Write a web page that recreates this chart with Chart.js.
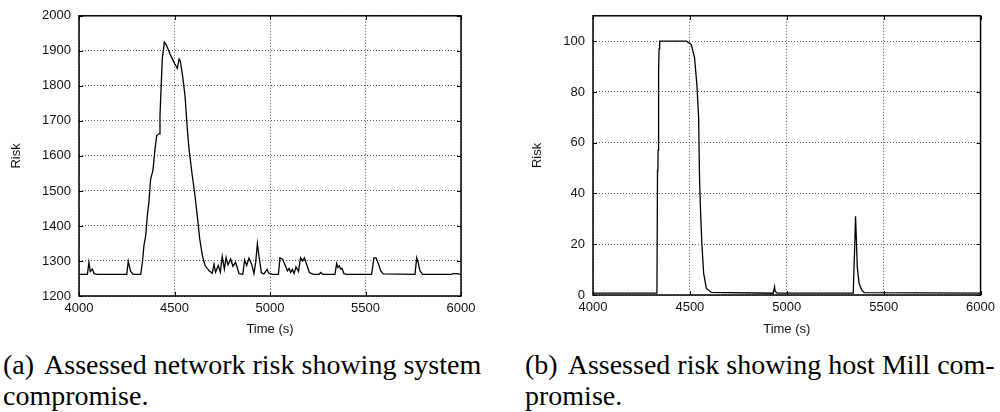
<!DOCTYPE html>
<html>
<head>
<meta charset="utf-8">
<script src="https://cdn.jsdelivr.net/npm/chart.js@4.4.1/dist/chart.umd.min.js"></script>
<style>
	body { margin: 0; background: #fff; }
	#page { position: relative; width: 1000px; height: 412px; overflow: hidden; }
	canvas { position: absolute; top: 0; }
	.cap { position: absolute; font-family: "Liberation Serif", "DejaVu Serif", "Times New Roman", Times, serif; font-size: 28px; line-height: 31px; color: #000; white-space: nowrap; }
	.cap .lbl { margin-right: 10px; }
</style>
</head>
<body>
<div id="page">
	<canvas id="netChart" width="500" height="340" style="left:0"></canvas>
	<canvas id="hostChart" width="500" height="340" style="left:500px"></canvas>
	<div class="cap" style="left:3px; top:349px"><span class="lbl">(a)</span>Assessed network risk showing system<br>compromise.</div>
	<div class="cap" style="left:525px; top:349px"><span class="lbl">(b)</span>Assessed risk showing host Mill com-<br>promise.</div>
</div>
<script>
// (a) network risk
var netTime = [4000, 4044, 4052, 4059, 4070, 4079, 4096, 4250, 4258, 4270, 4283, 4323, 4332, 4340, 4349, 4358, 4366, 4375, 4387, 4398,
	4407, 4419, 4424, 4431, 4436, 4447, 4457, 4480, 4501, 4515, 4524, 4530, 4541, 4555, 4567, 4576, 4593, 4607, 4619, 4632,
	4646, 4660, 4681, 4698, 4707, 4715, 4729, 4740, 4750, 4761, 4770, 4780, 4794, 4806, 4820, 4838, 4858, 4867, 4878, 4890,
	4904, 4916, 4925, 4934, 4942, 4955, 4968, 4985, 4992, 5000, 5014, 5044, 5052, 5066, 5078, 5091, 5100, 5108, 5117, 5126,
	5136, 5149, 5160, 5171, 5180, 5192, 5206, 5227, 5258, 5265, 5276, 5340, 5349, 5356, 5363, 5370, 5377, 5387, 5401, 5532,
	5544, 5555, 5567, 5579, 5593, 5759, 5768, 5777, 5785, 5799, 5951, 5960, 5977, 6000]
var netRisk = [1262, 1262, 1296, 1270, 1277, 1264, 1262, 1262, 1299, 1271, 1262, 1262, 1296, 1344, 1372, 1430, 1468, 1534, 1558, 1620,
	1658, 1663, 1715, 1810, 1877, 1925, 1917, 1887, 1863, 1850, 1877, 1872, 1834, 1772, 1677, 1620, 1544, 1487, 1430, 1363,
	1315, 1287, 1272, 1265, 1291, 1268, 1287, 1268, 1313, 1277, 1310, 1289, 1306, 1285, 1296, 1264, 1262, 1303, 1287, 1308,
	1291, 1264, 1296, 1350, 1315, 1266, 1263, 1276, 1266, 1264, 1262, 1262, 1309, 1305, 1290, 1272, 1279, 1267, 1276, 1264,
	1283, 1270, 1309, 1300, 1309, 1290, 1267, 1262, 1262, 1267, 1262, 1262, 1293, 1281, 1286, 1277, 1279, 1264, 1262, 1262,
	1309, 1309, 1293, 1272, 1263, 1262, 1309, 1293, 1272, 1262, 1262, 1264, 1264, 1262]

// (b) host Mill risk
var hostTime = [4000, 4330, 4333, 4335, 4336, 4338, 4339, 4341, 4344, 4482, 4507, 4524, 4536, 4545, 4550, 4555, 4562, 4571, 4585, 4610,
	4930, 4937, 4940, 4950, 5343, 5350, 5355, 5364, 5373, 5387, 5400, 6000]
var hostRisk = [0.7, 0.7, 49, 50, 57, 77, 88, 97, 100, 100, 98.7, 93.5, 83, 70, 45, 33, 20, 8.5, 2.6, 1,
	0.7, 3.3, 1.5, 0.7, 0.7, 17.6, 31, 11, 4.6, 1.9, 0.9, 0.7]

var timeTicks = [4000, 4500, 5000, 5500, 6000]

function toPoints(xs, ys) {
	return xs.map(function (x, i) { return { x: x, y: ys[i] } })
}

var frame = {
	id: 'frame',
	afterDraw: function (chart) {
		var a = chart.chartArea, ctx = chart.ctx
		ctx.save()
		ctx.strokeStyle = '#000'
		ctx.lineWidth = 1
		chart.scales.x.ticks.forEach(function (t) {
			var px = Math.round(chart.scales.x.getPixelForValue(t.value)) + 0.5
			ctx.beginPath()
			ctx.moveTo(px, a.bottom); ctx.lineTo(px, a.bottom - 4)
			ctx.moveTo(px, a.top); ctx.lineTo(px, a.top + 4)
			ctx.stroke()
		})
		chart.scales.y.ticks.forEach(function (t) {
			var py = Math.round(chart.scales.y.getPixelForValue(t.value)) + 0.5
			ctx.beginPath()
			ctx.moveTo(a.left, py); ctx.lineTo(a.left + 4, py)
			ctx.moveTo(a.right, py); ctx.lineTo(a.right - 4, py)
			ctx.stroke()
		})
		ctx.lineWidth = 1.5
		ctx.strokeRect(a.left, a.top, a.right - a.left, a.bottom - a.top)
		ctx.restore()
	}
}

function initRiskChart(id, xs, ys, opts) {
	var tickFont = { family: "'Liberation Sans', Arial, sans-serif", size: 13 }
	return new Chart(document.getElementById(id), {
		type: 'line',
		data: {
			datasets: [{
				data: toPoints(xs, ys),
				borderColor: '#000',
				borderWidth: 1.3,
				pointRadius: 0,
				tension: 0,
				fill: false
			}]
		},
		options: {
			responsive: false,
			animation: false,
			devicePixelRatio: 1,
			layout: { padding: { top: 15, right: opts.padRight, left: 0, bottom: 0 } },
			plugins: { legend: { display: false }, tooltip: { enabled: false } },
			scales: {
				x: {
					type: 'linear',
					min: 4000,
					max: 6000,
					afterFit: function (s) { s.height = opts.xHeight },
					afterBuildTicks: function (s) { s.ticks = timeTicks.map(function (v) { return { value: v } }) },
					ticks: { color: '#111', font: tickFont, padding: 5, maxRotation: 0, callback: function (v) { return v } },
					grid: { color: '#555', drawTicks: false, lineWidth: 1 },
					border: { display: false, dash: [1, 2] },
					title: { display: true, text: 'Time (s)', color: '#111', font: tickFont, padding: { top: 0, bottom: 3 } }
				},
				y: {
					min: opts.yMin,
					max: opts.yMax,
					afterFit: function (s) { s.width = opts.yWidth },
					afterBuildTicks: function (s) { s.ticks = s.ticks.filter(function (t) { return t.value <= opts.yTop }) },
					ticks: { stepSize: opts.yStep, color: '#111', font: tickFont, padding: 8, callback: function (v) { return v } },
					grid: { color: '#555', drawTicks: false, lineWidth: 1 },
					border: { display: false, dash: [1, 2] },
					title: { display: true, text: 'Risk', color: '#111', font: tickFont, padding: { top: opts.titlePad, bottom: 0 } }
				}
			}
		},
		plugins: [frame]
	})
}

initRiskChart('netChart', netTime, netRisk, { padRight: 39, xHeight: 44, yWidth: 79, yMin: 1200, yMax: 2000, yTop: 2000, yStep: 100, titlePad: 9 })
initRiskChart('hostChart', hostTime, hostRisk, { padRight: 18, xHeight: 45, yWidth: 93, yMin: 0, yMax: 110, yTop: 100, yStep: 20, titlePad: 30 })
</script>
</body>
</html>
